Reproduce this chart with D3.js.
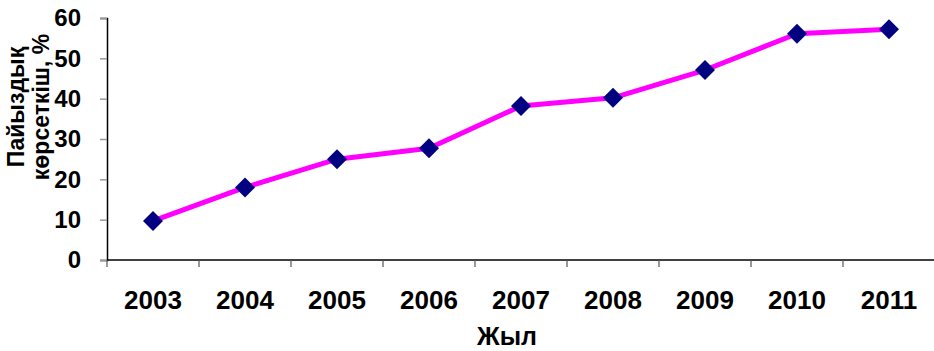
<!DOCTYPE html>
<html>
<head>
<meta charset="utf-8">
<script src="https://cdn.jsdelivr.net/npm/d3@7"></script>
<style>
  html, body { margin: 0; padding: 0; background: #fff; }
  svg { display: block; font-family: "Liberation Sans", Arial, sans-serif; }
</style>
</head>
<body>
<svg id="chart" width="934" height="351"></svg>
<script>
// Annual percentage indicator, 2003–2011
const years = ["2003", "2004", "2005", "2006", "2007", "2008", "2009", "2010", "2011"];
const values = [9.7, 18, 25, 27.7, 38.2, 40.2, 47.1, 56.1, 57.2];
const yTicks = [0, 10, 20, 30, 40, 50, 60];
const xTitle = "Жыл";
const yTitleLines = ["Пайыздық", "көрсеткіш, %"];

const svg = d3.select("#chart");
const margin = { left: 107, right: -1, top: 18, bottom: 91 };
const W = 934, H = 351;

const x = d3.scaleBand()
  .domain(years)
  .range([margin.left, W - margin.right])
  .paddingInner(0).paddingOuter(0);

const y = d3.scaleLinear()
  .domain([0, 60])
  .range([H - margin.bottom, margin.top]);

// Y axis
const yAxis = svg.append("g")
  .attr("transform", `translate(${margin.left},0)`)
  .call(d3.axisLeft(y).tickValues(yTicks).tickSize(7).tickPadding(19).tickFormat(d3.format("d")));
yAxis.select(".domain").attr("stroke", "#000").attr("stroke-width", 1.5);
yAxis.selectAll(".tick line").attr("stroke", "#999").attr("stroke-width", 1.5);
yAxis.selectAll(".tick text")
  .attr("font-size", 24).attr("font-weight", "bold").attr("fill", "#000")
  .attr("font-family", "Liberation Sans, Arial, sans-serif");

// X axis with ticks on category boundaries
const xAxisG = svg.append("g")
  .attr("transform", `translate(0,${y(0)})`);
xAxisG.append("line")
  .attr("x1", margin.left).attr("x2", W)
  .attr("stroke", "#000").attr("stroke-width", 1.5);
const bounds = years.map(d => x(d)).concat([x(years[years.length - 1]) + x.bandwidth()]);
xAxisG.selectAll("line.tk").data(bounds).join("line")
  .attr("class", "tk")
  .attr("x1", d => d).attr("x2", d => d)
  .attr("y1", 0).attr("y2", 7)
  .attr("stroke", "#555").attr("stroke-width", 1.2);
xAxisG.selectAll("text").data(years).join("text")
  .attr("x", d => x(d) + x.bandwidth() / 2)
  .attr("y", 49)
  .attr("text-anchor", "middle")
  .attr("font-size", 26).attr("font-weight", "bold")
  .text(d => d);

// Axis titles
svg.append("text")
  .attr("x", 507).attr("y", 345)
  .attr("text-anchor", "middle")
  .attr("font-size", 25).attr("font-weight", "bold")
  .text(xTitle);

const yt = svg.append("text")
  .attr("transform", "translate(24,107) rotate(-90)")
  .attr("text-anchor", "middle")
  .attr("font-size", 23).attr("font-weight", "bold");
yTitleLines.forEach((t, i) => {
  yt.append("tspan").attr("x", 0).attr("dy", i === 0 ? 0 : 25).text(t);
});

// Line and markers
const pts = years.map((d, i) => ({ year: d, value: values[i] }));
svg.append("path")
  .datum(pts)
  .attr("fill", "none")
  .attr("stroke", "#FF00FF")
  .attr("stroke-width", 5)
  .attr("stroke-linejoin", "round")
  .attr("d", d3.line().x(d => x(d.year) + x.bandwidth() / 2).y(d => y(d.value)));

svg.selectAll("path.mk").data(pts).join("path")
  .attr("class", "mk")
  .attr("transform", d => `translate(${x(d.year) + x.bandwidth() / 2},${y(d.value)})`)
  .attr("d", "M0,-10L10,0L0,10L-10,0Z")
  .attr("fill", "#000080");
</script>
</body>
</html>
